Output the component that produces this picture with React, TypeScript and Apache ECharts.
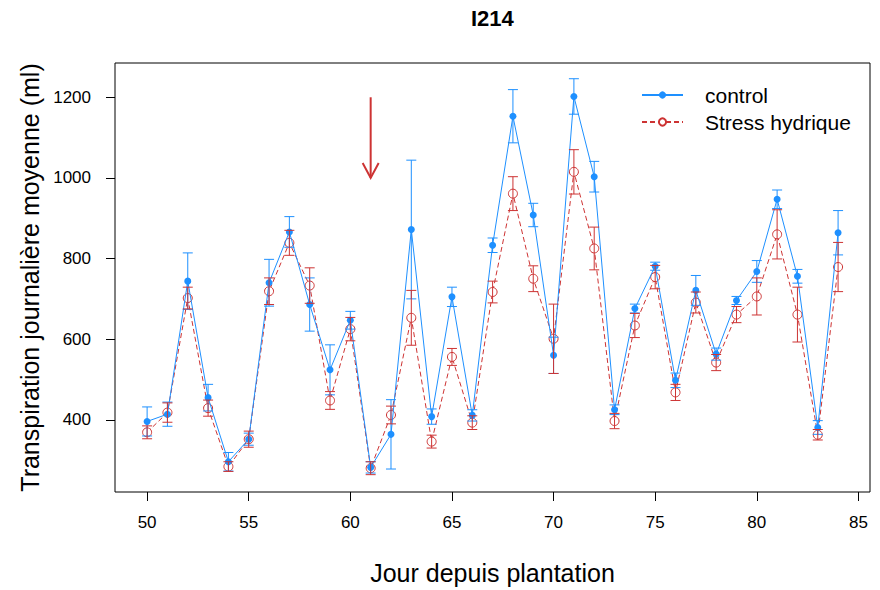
import React, { useEffect, useRef } from "react";
import * as echarts from "echarts";

const days = [50, 51, 52, 53, 54, 55, 56, 57, 58, 59, 60, 61, 62, 63, 64, 65, 66, 67, 68, 69, 70, 71, 72, 73, 74, 75, 76, 77, 78, 79, 80, 81, 82, 83, 84];
const control = [396, 414, 744, 455, 296, 352, 740, 866, 686, 524, 647, 282, 364, 872, 408, 705, 411, 833, 1153, 908, 560, 1202, 1003, 425, 676, 781, 498, 721, 563, 696, 768, 947, 756, 381, 864];
const controlSe = [36, 30, 70, 33, 23, 15, 58, 38, 66, 62, 22, 14, 86, 172, 19, 24, 14, 18, 66, 29, 45, 44, 38, 12, 11, 10, 18, 37, 15, 10, 27, 23, 17, 17, 55];
const stress = [369, 418, 702, 429, 284, 352, 719, 839, 733, 448, 625, 280, 412, 653, 346, 556, 393, 717, 961, 750, 601, 1015, 825, 397, 634, 754, 468, 691, 542, 661, 706, 860, 661, 363, 779];
const stressSe = [16, 24, 27, 20, 12, 20, 33, 31, 44, 22, 29, 16, 22, 68, 16, 21, 17, 27, 42, 32, 86, 55, 53, 19, 30, 29, 20, 26, 20, 20, 46, 61, 68, 13, 61];
const xTicks = [50, 55, 60, 65, 70, 75, 80, 85];
const yTicks = [400, 600, 800, 1000, 1200];
const arrow = [[61, 1200, 1000]];

const BLUE = "#1E90FF";
const RED = "#CD3333";
const FONT = "'Liberation Sans', Arial, sans-serif";

function errorBars(name: string, values: number[], se: number[], color: string) {
  return {
    type: "custom",
    name,
    silent: true,
    data: days.map((d, i) => [d, values[i], se[i]]),
    encode: { x: 0, y: 1 },
    renderItem: (params: any, api: any) => {
      const x = api.value(0);
      const y = api.value(1);
      const e = api.value(2);
      const top = api.coord([x, y + e]);
      const bot = api.coord([x, y - e]);
      const hw = 5;
      const style = { stroke: color, lineWidth: 1, fill: "none" };
      return {
        type: "group",
        children: [
          { type: "line", shape: { x1: top[0], y1: top[1], x2: bot[0], y2: bot[1] }, style },
          { type: "line", shape: { x1: top[0] - hw, y1: top[1], x2: top[0] + hw, y2: top[1] }, style },
          { type: "line", shape: { x1: bot[0] - hw, y1: bot[1], x2: bot[0] + hw, y2: bot[1] }, style },
        ],
      };
    },
  };
}

export default function App() {
  const ref = useRef<HTMLDivElement>(null);
  useEffect(() => {
    if (!ref.current) return;
    const chart = echarts.init(ref.current, null, { renderer: "svg" });
    chart.setOption({
      animation: false,
      backgroundColor: "#fff",
      title: {
        text: "I214",
        left: 471,
        top: 7,
        padding: 0,
        textStyle: { fontFamily: FONT, fontSize: 22, fontWeight: "bold", color: "#000" },
      },
      legend: {
        data: ["control", "Stress hydrique"],
        orient: "vertical",
        left: 641,
        top: 81.5,
        padding: 0,
        itemWidth: 41,
        itemHeight: 9,
        itemGap: 0,
        textStyle: { fontFamily: FONT, fontSize: 21, color: "#000", lineHeight: 27, padding: [0, 0, 0, 17] },
      },
      grid: {
        left: 115,
        right: 10,
        top: 63,
        bottom: 98,
        show: true,
        borderColor: "#000",
        borderWidth: 1,
        backgroundColor: "transparent",
      },
      xAxis: {
        type: "value",
        min: 48.42,
        max: 85.57,
        name: "Jour depuis plantation",
        nameLocation: "middle",
        nameGap: 68,
        nameTextStyle: { fontFamily: FONT, fontSize: 25, color: "#000" },
        axisLine: { show: false },
        splitLine: { show: false },
        axisTick: { show: true, length: 9, customValues: xTicks, lineStyle: { color: "#000" } },
        axisLabel: {
          customValues: xTicks,
          margin: 22,
          fontFamily: FONT,
          fontSize: 17,
          color: "#000",
          formatter: (v: number) => String(v),
        },
      },
      yAxis: {
        type: "value",
        min: 221,
        max: 1285,
        name: "Transpiration journalière moyenne (ml)",
        nameLocation: "middle",
        nameGap: 62,
        nameTextStyle: { fontFamily: FONT, fontSize: 25, color: "#000" },
        axisLine: { show: false },
        splitLine: { show: false },
        axisTick: { show: true, length: 9, customValues: yTicks, lineStyle: { color: "#000" } },
        axisLabel: {
          customValues: yTicks,
          margin: 24,
          fontFamily: FONT,
          fontSize: 17,
          color: "#000",
          formatter: (v: number) => String(v),
        },
      },
      series: [
        {
          type: "line",
          name: "Stress hydrique",
          data: days.map((d, i) => [d, stress[i]]),
          symbol: "circle",
          symbolSize: 9,
          color: RED,
          itemStyle: { color: "#fff", borderColor: RED, borderWidth: 1 },
          lineStyle: { color: RED, width: 1, type: [5, 3] },
          z: 3,
        },
        {
          type: "line",
          name: "control",
          data: days.map((d, i) => [d, control[i]]),
          symbol: "circle",
          symbolSize: 7,
          color: BLUE,
          itemStyle: { color: BLUE },
          lineStyle: { color: BLUE, width: 1 },
          z: 4,
        },
        { ...errorBars("controlErr", control, controlSe, BLUE), z: 5 },
        { ...errorBars("stressErr", stress, stressSe, RED), z: 6 },
        {
          type: "custom",
          name: "arrow",
          silent: true,
          data: arrow,
          encode: { x: 0, y: 1 },
          z: 7,
          renderItem: (params: any, api: any) => {
            const p0 = api.coord([api.value(0), api.value(1)]);
            const p1 = api.coord([api.value(0), api.value(2)]);
            const style = { stroke: RED, lineWidth: 2, fill: "none" };
            return {
              type: "group",
              children: [
                { type: "line", shape: { x1: p0[0], y1: p0[1], x2: p1[0], y2: p1[1] }, style },
                {
                  type: "polyline",
                  shape: { points: [[p1[0] - 8, p1[1] - 15], [p1[0], p1[1]], [p1[0] + 8, p1[1] - 15]] },
                  style,
                },
              ],
            };
          },
        },
      ],
    });
    return () => chart.dispose();
  }, []);
  return <div ref={ref} style={{ position: "fixed", left: 0, top: 0, width: 880, height: 590 }} />;
}
